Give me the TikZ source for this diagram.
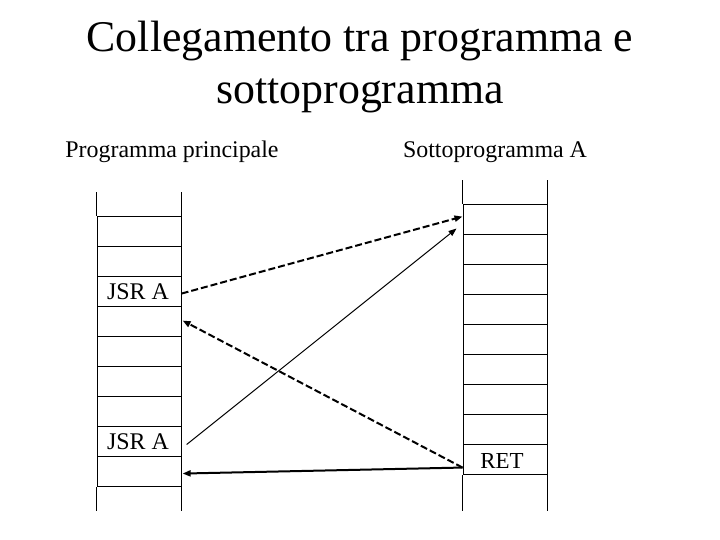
\documentclass[tikz,border=0pt]{standalone}
\usepackage{fontspec}
\setmainfont{Liberation Serif}
\usetikzlibrary{arrows.meta,calc}
\begin{document}
\begin{tikzpicture}[x=1bp,y=-1bp,
  cell/.style={draw,line width=1.1bp,minimum width=84bp,minimum height=30bp,inner sep=0pt,anchor=north west},
  colline/.style={line width=1.1bp},
  dasharrow/.style={line width=2bp,dash pattern=on 7bp off 3bp,-{Triangle[length=8bp,width=6bp]}},
  thinarrow/.style={line width=1bp,-{Triangle[length=8bp,width=6bp]}},
  thickarrow/.style={line width=2bp,-{Triangle[length=8bp,width=6bp]}},
  lbl/.style={font=\fontsize{24}{24}\selectfont,inner sep=0pt,anchor=base}]
\useasboundingbox (0,0) rectangle (720,540);
\node[font=\fontsize{44}{52}\selectfont,align=center,anchor=north,inner sep=0pt] (title) at (360,21)
  {Collegamento tra programma e\\sottoprogramma};
\node[lbl] (lp) at (172,158) {Programma principale};
\node[lbl] (rp) at (495,158) {Sottoprogramma A};
% left column
\foreach \i in {1,...,9}{
  \node[cell] (L\i) at (96.5,{216+30*(\i-1)}) {};
}
\node[lbl] at ($(L3.center)+(-1,8)$) {JSR A};
\node[lbl] at ($(L8.center)+(-1,8)$) {JSR A};
\draw[colline] (L1.north west) -- ++(0,-24) (L1.north east) -- ++(0,-24);
\draw[colline] (L9.south west) -- ++(0,24) (L9.south east) -- ++(0,24);
% right column
\foreach \i in {1,...,9}{
  \node[cell] (R\i) at (462.5,{204+30*(\i-1)}) {};
}
\node[lbl,font=\fontsize{23}{23}\selectfont] at ($(R9.center)+(-3,9)$) {RET};
\draw[colline] (R1.north west) -- ++(0,-24) (R1.north east) -- ++(0,-24);
\draw[colline] (R9.south west) -- ++(0,36) (R9.south east) -- ++(0,36);
% connectors
\draw[dasharrow] ($(L3.east)+(0,2)$) -- ($(R1.west)+(0,-3)$);
\draw[thinarrow] ($(L8.east)+(5,3)$) -- ($(R1.west)+(-6,9)$);
\draw[dasharrow] ($(R9.west)+(0,8)$) -- ($(L4.east)+(1,-1)$);
\draw[thickarrow] ($(R9.west)+(0,8)$) -- ($(L9.east)+(1,2)$);
\end{tikzpicture}
\end{document}
